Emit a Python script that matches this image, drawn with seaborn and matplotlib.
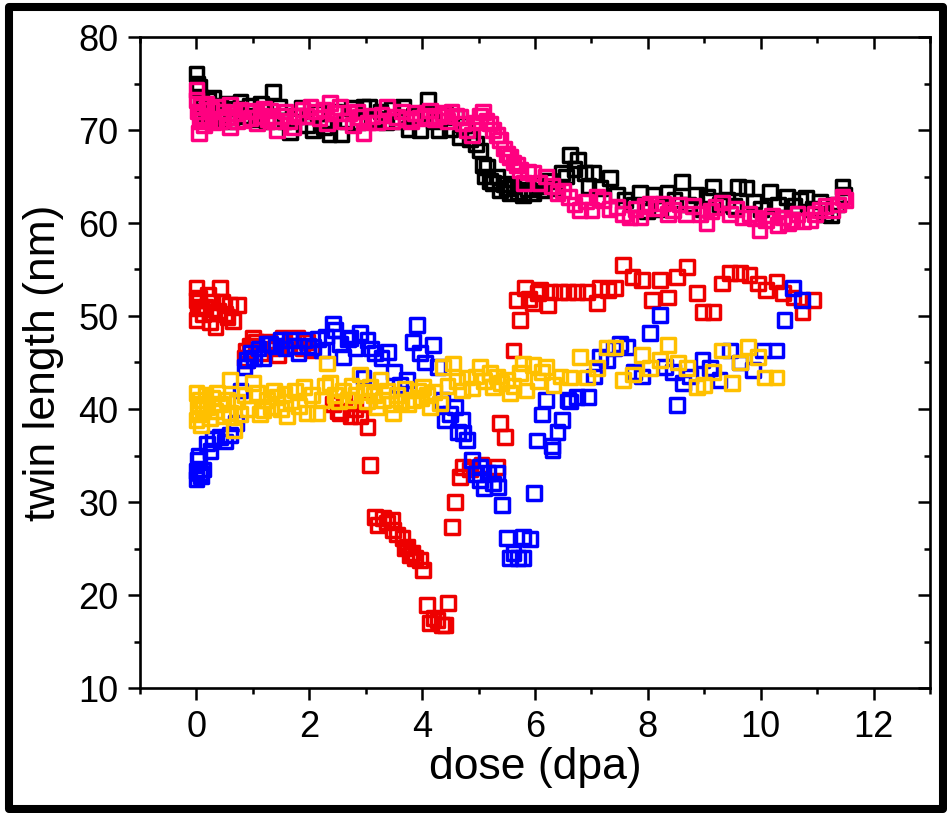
import numpy as np
import pandas as pd
import seaborn as sns
import matplotlib
matplotlib.use("Agg")
import matplotlib.pyplot as plt
from matplotlib.ticker import MultipleLocator
from matplotlib.patches import Rectangle

# ---------------- data ----------------
black_x = [0.00,0.02,0.05,0.08,0.12,0.16,0.20,0.25,0.30,0.36,0.42,0.48,0.55,0.62,0.70,0.78,0.86,0.95,1.05,1.15,
           1.25,1.36,1.46,1.56,1.66,1.76,1.86,1.96,2.06,2.16,2.26,2.36,2.46,2.56,2.66,2.76,2.86,2.96,3.06,3.16,
           3.26,3.36,3.46,3.56,3.66,3.76,3.86,3.96,4.06,4.11,4.20,4.30,4.40,4.50,4.60,4.67,4.75,4.85,4.95,5.03,
           5.08,5.12,5.15,5.20,5.26,5.32,5.38,5.45,5.50,5.56,5.62,5.70,5.79,5.88,5.97,6.05,6.15,6.25,6.35,6.48,
           6.55,6.62,6.70,6.76,6.88,6.95,7.03,7.15,7.33,7.45,7.60,7.75,7.86,7.98,8.10,8.22,8.35,8.47,8.60,8.72,
           8.85,8.97,9.05,9.15,9.28,9.40,9.52,9.60,9.75,9.88,10.00,10.16,10.30,10.46,10.60,10.70,10.80,10.92,11.05,11.15,
           11.25,11.35,11.45,11.48]
black_y = [76.0,75.0,74.6,73.5,72.5,71.8,73.2,72.0,73.5,71.5,72.6,71.2,72.8,71.0,72.3,73.0,71.5,72.6,71.2,72.8,
           71.0,74.1,72.5,71.0,69.8,71.5,72.4,70.5,70.0,71.8,70.3,69.6,72.0,69.6,71.0,72.4,70.8,72.5,72.5,71.2,
           72.0,70.8,72.3,71.0,72.5,70.1,71.5,70.0,71.8,73.2,71.0,70.0,71.6,70.1,71.4,69.2,70.5,69.0,68.5,67.8,
           66.2,65.0,66.0,64.5,64.3,65.0,63.5,64.2,63.8,63.2,64.0,63.3,63.0,63.6,63.2,64.0,63.5,64.5,63.8,65.4,
           65.0,67.3,65.8,66.8,65.4,64.0,65.4,63.8,64.8,63.0,62.5,62.0,63.2,61.3,63.0,61.5,63.2,62.5,64.4,62.0,
           63.0,61.5,62.8,63.9,62.0,62.5,61.8,63.9,63.8,62.3,61.5,63.3,62.0,62.8,61.8,62.5,62.7,61.5,62.3,61.0,
           60.8,62.0,63.9,63.0]

pink_x = [0.00,0.00,0.02,0.04,0.06,0.08,0.10,0.14,0.18,0.22,0.26,0.30,0.37,0.42,0.48,0.54,0.60,0.60,0.66,0.72,
          0.78,0.83,0.90,0.96,1.00,1.08,1.14,1.20,1.26,1.31,1.37,1.43,1.50,1.58,1.65,1.72,1.80,1.88,1.95,2.02,
          2.10,2.18,2.25,2.32,2.37,2.45,2.55,2.62,2.70,2.78,2.84,2.90,2.96,3.04,3.12,3.20,3.28,3.38,3.46,3.56,
          3.64,3.72,3.80,3.88,3.96,4.05,4.14,4.22,4.30,4.37,4.45,4.52,4.60,4.67,4.73,4.80,4.88,4.95,5.02,5.08,
          5.14,5.20,5.26,5.32,5.38,5.45,5.50,5.56,5.62,5.68,5.73,5.80,5.88,5.97,6.08,6.20,6.30,6.40,6.50,6.60,
          6.70,6.80,6.90,7.00,7.10,7.20,7.32,7.45,7.56,7.68,7.78,7.86,7.95,8.04,8.15,8.27,8.36,8.45,8.56,8.68,
          8.80,8.92,9.04,9.12,9.20,9.32,9.45,9.56,9.68,9.80,9.90,9.98,10.10,10.20,10.30,10.40,10.48,10.56,10.65,10.75,
          10.87,10.96,11.04,11.15,11.27,11.37,11.45,11.50]
pink_y = [74.3,73.2,72.0,69.7,71.0,72.6,71.5,70.5,72.8,71.2,72.2,70.8,72.5,71.0,72.0,71.4,72.7,70.3,71.8,71.0,
          72.2,71.1,72.0,71.3,72.1,70.7,71.5,72.3,71.2,72.1,71.0,70.0,71.5,72.0,71.0,70.3,71.5,72.2,71.5,72.5,
          72.0,71.3,72.2,70.7,72.9,71.8,72.5,71.0,71.8,70.5,72.0,71.4,69.7,70.8,71.5,70.8,71.6,72.5,71.0,71.4,
          72.0,71.2,71.0,71.8,71.3,71.5,72.1,71.2,71.5,71.8,71.0,72.0,71.5,71.4,70.7,70.0,69.5,70.8,71.5,71.9,
          71.0,70.7,70.0,69.5,68.9,68.0,67.4,67.1,66.5,66.2,65.7,64.3,65.5,65.4,64.3,65.0,64.0,63.2,63.5,62.8,
          62.0,61.4,62.3,61.4,62.8,62.5,61.5,61.7,61.0,60.6,61.5,60.6,61.8,62.1,61.6,62.1,61.0,61.4,62.0,61.0,
          61.8,61.0,60.0,61.3,61.7,62.2,61.0,61.5,60.6,61.0,60.5,59.2,60.3,60.8,59.8,60.6,60.0,60.3,61.0,60.2,
          60.3,61.0,61.4,61.8,61.4,62.0,62.8,62.5]

red_x = [0.00,0.00,0.00,0.02,0.05,0.08,0.12,0.16,0.20,0.24,0.28,0.30,0.34,0.38,0.42,0.46,0.50,0.55,0.60,0.65,
         0.74,0.85,0.87,0.90,0.95,1.00,1.05,1.15,1.25,1.35,1.45,1.54,1.62,1.70,1.79,1.88,1.96,2.05,2.42,2.50,
         2.55,2.62,2.73,2.82,2.90,2.96,3.03,3.08,3.17,3.22,3.30,3.38,3.46,3.49,3.56,3.65,3.70,3.73,3.78,3.82,
         3.88,3.96,4.02,4.09,4.14,4.20,4.27,4.35,4.41,4.46,4.53,4.58,4.67,4.73,4.85,5.05,5.33,5.38,5.47,5.62,
         5.68,5.73,5.82,5.90,5.97,6.05,6.09,6.23,6.27,6.44,6.58,6.74,6.92,7.10,7.15,7.30,7.42,7.56,7.73,7.89,
         8.07,8.21,8.36,8.51,8.69,8.87,8.98,9.15,9.31,9.45,9.63,9.80,9.95,10.10,10.28,10.40,10.58,10.74,10.92]
red_y = [53.0,51.7,49.6,50.8,52.0,51.0,50.2,51.0,52.3,49.3,51.5,50.3,48.8,50.5,53.0,51.5,50.2,49.9,51.2,49.5,
         51.2,45.5,46.3,45.3,46.8,47.6,47.2,46.0,47.2,46.5,45.8,47.7,46.8,47.5,47.7,46.5,47.2,46.3,40.5,39.8,
         39.6,40.8,39.2,40.0,39.2,40.5,38.1,34.0,28.4,27.5,28.3,27.8,28.1,27.0,26.5,26.1,25.0,25.2,24.3,24.5,
         24.0,23.8,22.7,18.9,17.0,17.5,17.3,16.8,16.8,19.1,27.3,30.0,32.7,33.8,33.5,34.0,33.8,38.5,37.0,46.3,
         51.7,49.6,53.0,51.8,51.4,52.5,52.8,51.2,52.6,52.6,52.6,52.6,52.6,51.4,53.0,52.8,53.0,55.5,54.2,53.9,
         51.7,53.9,52.0,54.2,55.3,52.5,50.4,50.4,53.5,54.6,54.6,54.4,53.5,52.8,53.7,52.5,52.0,50.4,51.7]

blue_x = [0.00,0.00,0.02,0.04,0.06,0.08,0.12,0.19,0.25,0.30,0.42,0.50,0.60,0.70,0.78,0.85,0.90,0.96,1.02,1.10,
          1.19,1.25,1.31,1.40,1.49,1.58,1.66,1.74,1.81,1.90,1.98,2.07,2.15,2.22,2.30,2.42,2.46,2.55,2.60,2.68,
          2.73,2.82,2.90,2.96,3.03,3.10,3.17,3.28,3.40,3.50,3.61,3.73,3.84,3.91,3.96,4.05,4.19,4.28,4.35,4.41,
          4.50,4.58,4.64,4.71,4.73,4.80,4.88,4.95,5.03,5.03,5.10,5.17,5.25,5.33,5.35,5.42,5.50,5.56,5.62,5.70,
          5.79,5.79,5.91,5.98,6.04,6.12,6.19,6.30,6.31,6.40,6.48,6.58,6.62,6.74,6.94,7.05,7.15,7.27,7.40,7.50,
          7.63,7.75,7.90,8.04,8.21,8.30,8.45,8.51,8.62,8.75,8.97,9.10,9.27,9.45,9.63,9.86,10.04,10.28,10.42,10.57,
          10.73]
blue_y = [32.5,33.3,34.5,35.0,33.1,32.8,33.5,36.3,35.5,36.8,37.0,36.5,37.2,38.5,42.0,44.5,45.3,46.0,45.5,46.5,
          45.5,47.0,47.0,46.8,47.4,46.5,47.4,46.8,46.0,47.4,46.8,46.7,47.5,46.3,47.8,49.2,48.5,47.0,45.6,47.5,
          47.6,46.5,48.2,43.4,47.4,46.5,46.0,45.5,46.1,44.0,42.6,43.1,47.2,49.0,46.0,45.0,46.9,44.5,41.0,38.8,
          39.5,40.2,37.5,38.8,37.4,36.7,34.5,33.0,33.8,32.4,31.5,33.1,32.0,33.1,31.6,29.7,26.1,24.0,24.5,24.0,
          26.2,24.0,26.0,31.0,36.6,39.4,41.0,36.0,35.6,37.5,38.8,41.0,40.8,41.3,41.3,43.5,45.6,45.3,46.5,47.0,
          46.7,44.0,43.5,48.2,50.1,44.5,44.0,40.4,42.8,43.5,45.3,44.4,43.1,46.3,45.0,44.2,46.3,46.3,49.6,53.0,
          51.7]

yellow_x = [0.00,0.00,0.02,0.04,0.06,0.08,0.12,0.16,0.19,0.24,0.28,0.33,0.37,0.42,0.48,0.54,0.60,0.60,0.66,0.72,
            0.78,0.85,0.92,1.00,1.08,1.13,1.19,1.25,1.32,1.38,1.43,1.50,1.56,1.61,1.68,1.75,1.82,1.90,1.96,2.05,
            2.14,2.22,2.28,2.32,2.37,2.45,2.52,2.60,2.68,2.75,2.82,2.90,2.97,3.02,3.08,3.15,3.20,3.26,3.31,3.38,
            3.45,3.49,3.55,3.62,3.70,3.76,3.84,3.92,3.98,4.02,4.08,4.14,4.22,4.32,4.37,4.45,4.55,4.62,4.70,4.80,
            4.88,4.95,5.03,5.10,5.20,5.26,5.33,5.40,5.50,5.56,5.62,5.73,5.79,5.85,5.97,6.05,6.12,6.20,6.33,6.45,
            6.62,6.80,6.92,7.10,7.27,7.42,7.56,7.74,7.89,8.04,8.21,8.36,8.53,8.69,8.87,9.00,9.15,9.31,9.49,9.63,
            9.77,9.95,10.07,10.28]
yellow_y = [41.7,38.8,40.5,39.5,41.0,38.3,40.0,41.5,40.2,39.0,41.2,39.8,41.7,40.5,39.2,41.0,43.1,39.6,37.7,40.8,
            39.5,41.5,40.0,42.8,41.7,39.5,39.9,41.0,40.2,42.0,41.3,40.0,41.6,39.2,40.8,42.0,40.3,42.4,39.6,41.5,
            39.6,41.0,42.5,44.9,42.8,41.5,40.8,42.0,41.0,42.5,41.5,43.7,41.8,40.8,42.4,41.5,40.2,43.1,41.0,42.0,
            40.5,39.6,41.5,40.8,42.2,40.5,41.0,42.0,41.2,42.4,41.5,40.2,41.8,40.6,44.5,42.5,44.9,43.0,42.0,43.4,
            42.2,43.5,44.5,43.0,43.9,42.4,43.5,42.8,43.1,41.7,42.5,43.9,44.9,42.0,44.7,43.0,44.0,44.5,42.6,43.5,
            43.4,45.6,43.4,44.4,46.6,46.6,43.1,43.7,45.8,44.4,45.3,46.9,45.0,44.4,42.4,42.6,44.0,46.3,42.8,45.0,
            46.7,45.6,43.4,43.4]

series = [
    ("black", black_x, black_y, "#000000"),
    ("pink", pink_x, pink_y, "#FF0080"),
    ("red", red_x, red_y, "#EE0000"),
    ("blue", blue_x, blue_y, "#0000FF"),
    ("yellow", yellow_x, yellow_y, "#FFC000"),
]

# ---------------- style ----------------
sns.set_style("ticks")
plt.rcParams["font.family"] = ["Liberation Sans", "DejaVu Sans"]
plt.rcParams["text.color"] = "black"
plt.rcParams["axes.labelcolor"] = "black"
plt.rcParams["xtick.color"] = "black"
plt.rcParams["ytick.color"] = "black"

W, H = 947, 813
fig = plt.figure(figsize=(W / 100, H / 100), dpi=100)
fig.patch.set_facecolor("white")

L, R, T, B = 140, 930, 37, 688
pos = [L / W, 1 - B / H, (R - L) / W, (B - T) / H]
ax = fig.add_axes(pos)

for name, xs, ys, col in series:
    df = pd.DataFrame({"dose": xs, "len": ys})
    sns.scatterplot(data=df, x="dose", y="len", ax=ax, marker="s", s=98,
                    color=col, facecolor="none", edgecolor=col, linewidth=2.5,
                    legend=False, zorder=3)

ax.set_xlim(-1, 13)
ax.set_ylim(10, 80)
ax.xaxis.set_major_locator(MultipleLocator(2))
ax.xaxis.set_minor_locator(MultipleLocator(1))
ax.yaxis.set_major_locator(MultipleLocator(10))
ax.yaxis.set_minor_locator(MultipleLocator(5))

for sp in ax.spines.values():
    sp.set_linewidth(1.9)
    sp.set_color("black")
    sp.set_visible(True)

ax.tick_params(which="major", direction="out", length=8.6, width=1.8,
               labelsize=26, pad=7, top=False, right=False, colors="black")
ax.tick_params(which="minor", direction="out", length=4.3, width=1.8,
               top=False, right=False, colors="black")
ax.set_xlabel("dose (dpa)", fontsize=32, labelpad=2, color="black")
ax.set_ylabel("twin length (nm)", fontsize=32, labelpad=10, color="black")

# mirrored inward ticks on top / right
ax2 = fig.add_axes(pos, frameon=False, sharex=ax, sharey=ax)
ax2.patch.set_visible(False)
ax2.tick_params(which="both", direction="in", width=1.8, left=False, bottom=False,
                top=True, right=True, labelleft=False, labelbottom=False,
                labeltop=False, labelright=False, colors="black")
ax2.tick_params(which="major", length=8.6)
ax2.tick_params(which="minor", length=4.3)
ax2.set_xlabel("")
ax2.set_ylabel("")

# figure border
fig.patches.append(Rectangle((9 / W, 4 / H), (943 - 9) / W, (805.5 - 4) / H,
                             transform=fig.transFigure, fill=False,
                             edgecolor="black", linewidth=5.8, joinstyle="round"))

fig.savefig("out.png", dpi=100)
